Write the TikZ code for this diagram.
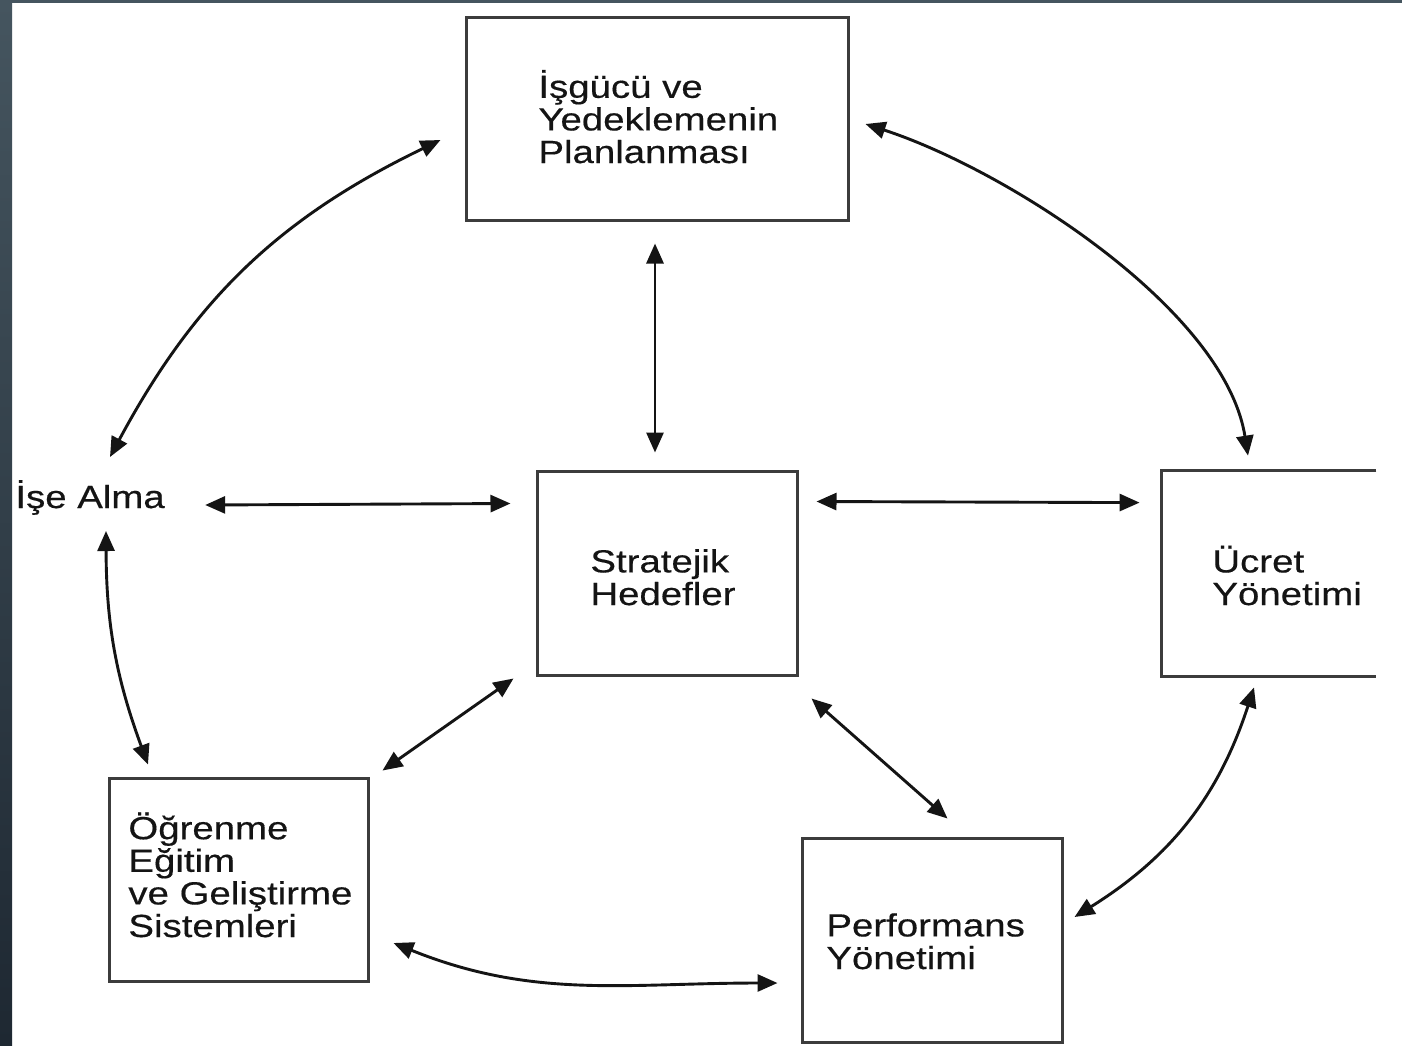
\documentclass[tikz,border=0pt]{standalone}
\usepackage{fontspec}
\setmainfont{Liberation Sans}[FakeStretch=1.2,FakeBold=0.4]
\usetikzlibrary{arrows.meta,calc}
\definecolor{striptop}{HTML}{45555F}
\definecolor{stripbot}{HTML}{1E2832}
\definecolor{boxcol}{HTML}{3C3C3C}
\definecolor{inkcol}{HTML}{141414}
\begin{document}
\begin{tikzpicture}[x=0.5pt,y=-0.5pt,
  boxline/.style={draw=boxcol, line width=1.5pt},
  box/.style={boxline, inner sep=0pt},
  frame/.style={inner sep=0pt},
  txt/.style={anchor=base west, align=left, inner sep=0pt, text=inkcol,
    font=\fontsize{16}{16.3}\selectfont},
  arr/.style={{Triangle[length=10pt,width=8.5pt]}-{Triangle[length=10pt,width=8.5pt]},
    line width=1.45pt, draw=inkcol}]
\useasboundingbox (0,0) rectangle (1402,1045);
\fill[white] (0,0) rectangle (1402,1045);
\shade[top color=striptop, bottom color=stripbot] (0,0) rectangle (12,1045);
\fill[striptop] (0,0) rectangle (1402,2.5);

% boxes
\node[box, minimum width=191pt, minimum height=101.5pt] (top) at (657,118.5) {};
\node[box, minimum width=130pt, minimum height=102pt] (ctr) at (667,573) {};
\node[frame, minimum width=107pt, minimum height=102.5pt] (ucret) at (1269,573.5) {};
\draw[boxline] (ucret.north east) -- (ucret.north west) -- (ucret.south west) -- (ucret.south east);
\node[box, minimum width=129.5pt, minimum height=101.5pt] (ogr) at (238.5,879.5) {};
\node[box, minimum width=130pt, minimum height=102pt] (perf) at (932,940) {};

% texts (base = baseline of the last line)
\node[txt] (toptext) at (538,163) {İşgücü ve\\Yedeklemenin\\Planlanması};
\node[txt] (ctrtext) at (590,605) {Stratejik\\Hedefler};
\node[txt] (ucrettext) at (1212,605) {Ücret\\Yönetimi};
\node[txt] (ogrtext) at (128,937) {Öğrenme\\Eğitim\\ve Geliştirme\\Sistemleri};
\node[txt] (perftext) at (826,969) {Performans\\Yönetimi};
\node[txt] (ise) at (15,508) {İşe Alma};

% straight connectors
\draw[arr] ($(top.south)+(-2,22)$) -- ($(ctr.north)+(-12,-17)$);
\draw[arr] ($(ise.base east)+(40,-3)$) -- ($(ctr.north west)+(-25,34)$);
\draw[arr] ($(ctr.north east)+(18,32)$) -- ($(ucret.north west)+(-22,32)$);
\draw[arr] ($(ctr.south west)+(-22,2)$) -- ($(ogr.north east)+(13,-6)$);
\draw[arr] ($(ctr.south east)+(13,22)$) -- ($(perf.north west)+(147,-18)$);

% curved connectors
\draw[arr] ($(top.west)+(-24,21.5)$) to[bend right=18] ($(ise.base west)+(95,-51)$);
\draw[arr] ($(top.east)+(16,5.5)$) to[out=-18, in=99, looseness=0.75] ($(ucret.north)+(-21,-15)$);
\draw[arr] ($(ise.base west)+(91,23)$) to[bend right=10] ($(ogr.north)+(-90.5,-12)$);
\draw[arr] ($(ogr.east)+(24,63.5)$) to[out=-22, in=180] ($(perf.west)+(-23,43)$);
\draw[arr] ($(perf.east)+(11,-23)$) to[bend right=20] ($(ucret.south)+(-15,11)$);
\end{tikzpicture}
\end{document}
